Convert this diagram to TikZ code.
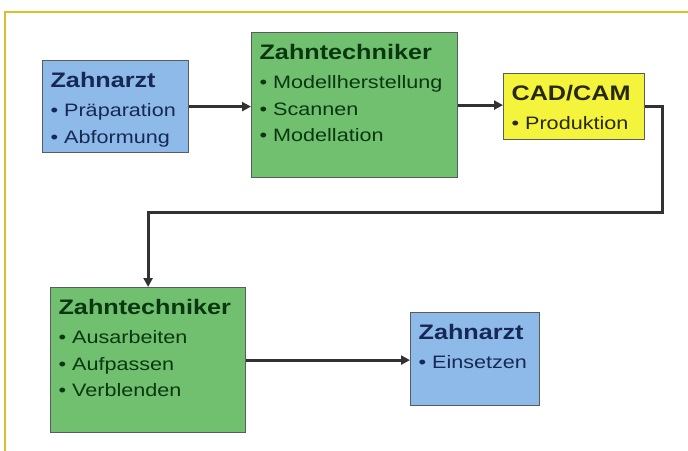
\documentclass[tikz,border=0pt]{standalone}
\usepackage{fontspec}
\setmainfont{Liberation Sans}[FakeStretch=1.2]
\usepackage{tikz}
\usetikzlibrary{arrows.meta}

\definecolor{zblue}{RGB}{141,186,232}
\definecolor{zgreen}{RGB}{112,192,112}
\definecolor{zyellow}{RGB}{244,244,60}
\definecolor{zframe}{RGB}{222,190,40}
\definecolor{zline}{RGB}{50,50,50}
\definecolor{zbluetext}{RGB}{22,40,85}
\definecolor{zgreentext}{RGB}{10,55,15}
\definecolor{zyellowtext}{RGB}{40,40,10}

\newcommand{\stagebox}[3]{\parbox[c][#2pt][t]{#1pt}{\vspace*{12pt}\leftskip=8pt\relax #3}}
\newcommand{\stagehead}[1]{{\fontsize{21}{24}\selectfont\bfseries #1\par}\vspace{2.5pt}}
\newcommand{\stageitem}[1]{{\fontsize{18}{26.5}\selectfont\textbullet\ #1\par}}

\begin{document}
\begin{tikzpicture}[x = 1pt, y = -1pt,
	stage/.style = {draw = zline!80, line width = 1.2pt, inner sep = 0pt, anchor = north west},
	flow/.style = {draw = zline, line width = 3pt, -{Triangle[length = 9pt, width = 9pt]}}]
	 \useasboundingbox (0, 0) rectangle (688, 450);
	 \draw[zframe, line width = 2pt] (5, 451) |- (689, 12);
	 
	 \node[stage, fill = zblue, text = zbluetext] (za1) at (42, 60)
	 {\stagebox{146}{92}{\stagehead{Zahnarzt}\stageitem{Präparation}\stageitem{Abformung}}};
	 \node[stage, fill = zgreen, text = zgreentext] (zt1) at (251, 32)
	 {\stagebox{206}{145}{\stagehead{Zahntechniker}\stageitem{Modellherstellung}\stageitem{Scannen}\stageitem{Modellation}}};
	 \node[stage, fill = zyellow, text = zyellowtext] (cad) at (503, 73)
	 {\stagebox{141}{66}{\stagehead{CAD/CAM}\stageitem{Produktion}}};
	 \node[stage, fill = zgreen, text = zgreentext] (zt2) at (50, 287)
	 {\stagebox{195}{145}{\stagehead{Zahntechniker}\stageitem{Ausarbeiten}\stageitem{Aufpassen}\stageitem{Verblenden}}};
	 \node[stage, fill = zblue, text = zbluetext] (za2) at (410, 312)
	 {\stagebox{129}{93}{\stagehead{Zahnarzt}\stageitem{Einsetzen}}};
	 
	 \coordinate (turn) at (662, 212);
	 
	 \draw[flow] (za1.east) -- (za1.east -| zt1.west);
	 \draw[flow] (zt1.east) -- (zt1.east -| cad.west);
	 \draw[flow] (cad.east) -| (turn) -| (zt2.north);
	 \draw[flow] (zt2.east) -- (zt2.east -| za2.west);
\end{tikzpicture}
\end{document}
